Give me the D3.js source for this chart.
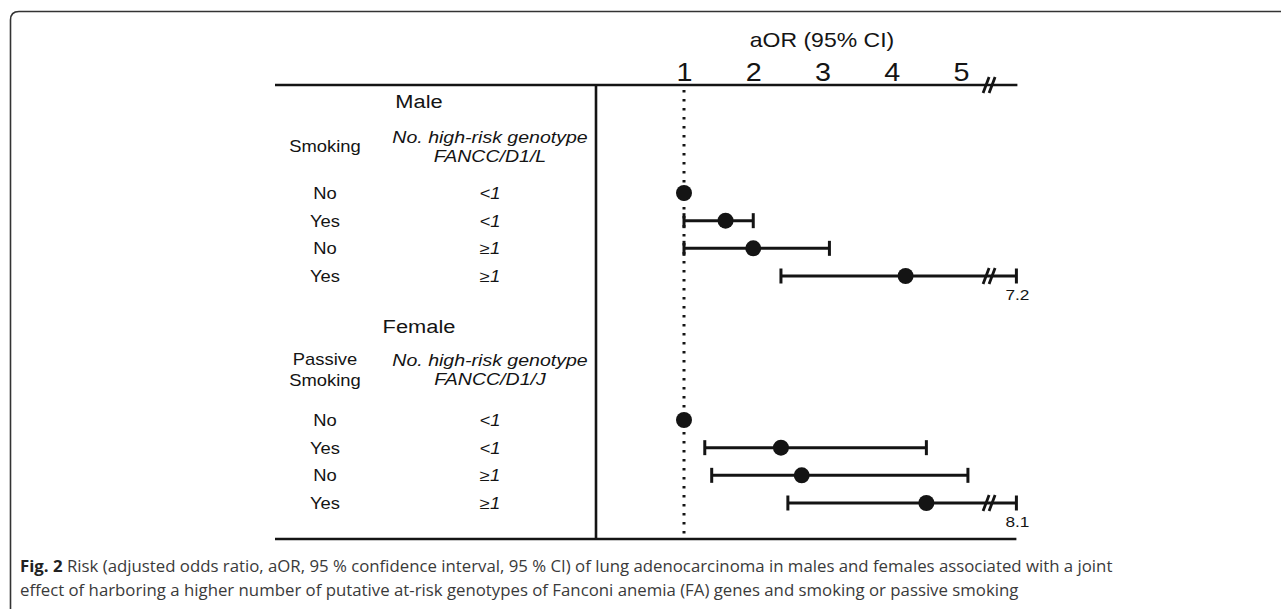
<!DOCTYPE html>
<html>
<head>
<meta charset="utf-8">
<script src="https://cdn.jsdelivr.net/npm/d3@7"></script>
<style>
  body { margin: 0; background: #fff; }
  svg { display: block; }
</style>
</head>
<body>
<svg id="chart" width="1281" height="609"></svg>
<script>
// values
let tickValues = [1, 2, 3, 4, 5];

let maleSmoking = ["No", "Yes", "No", "Yes"];
let maleGenotype = ["<1", "<1", "≥1", "≥1"];
let maleEst = [1.0, 1.6, 2.0, 4.2];
let maleLo = [1.0, 1.0, 1.0, 2.4];
let maleHi = [1.0, 2.0, 3.1, 7.2];

let femaleSmoking = ["No", "Yes", "No", "Yes"];
let femaleGenotype = ["<1", "<1", "≥1", "≥1"];
let femaleEst = [1.0, 2.4, 2.7, 4.5];
let femaleLo = [1.0, 1.3, 1.4, 2.5];
let femaleHi = [1.0, 4.5, 5.1, 8.1];

let captionBold = "Fig. 2";
let captionLines = [
    " Risk (adjusted odds ratio, aOR, 95 % confidence interval, 95 % CI) of lung adenocarcinoma in males and females associated with a joint",
    "effect of harboring a higher number of putative at-risk genotypes of Fanconi anemia (FA) genes and smoking or passive smoking"
];

let svg = d3.select('#chart');
let ink = '#141414';
let stretch = 1.15; // figure text is a bit wider than Arial

// axis: 1..5 linear, anything past the break is drawn at the end cap
let x = d3.scaleLinear().domain([1, 5]).range([684, 961]);
let breakAt = 5.42;
let capAt = 5.8;
let xc = function(v) { return v > 5.5 ? x(capAt) : x(v); };

let maleY = d3.scaleLinear().domain([0, 3]).range([193, 276]);
let femaleY = d3.scaleLinear().domain([0, 3]).range([420, 503]);

// frame
svg.append('rect').attr('width', 1281).attr('height', 609).attr('fill', '#fff');
svg.append('path')
    .attr('d', 'M10.5,609 V20 Q10.5,11.5 19,11.5 H1281')
    .attr('fill', 'none').attr('stroke', '#333').attr('stroke-width', 1.6);

let label = function(g, px, py, text, size, opts) {
    opts = opts || {};
    return g.append('text')
        .attr('transform', 'translate(' + px + ',' + py + ') scale(' + stretch + ',1)')
        .attr('text-anchor', opts.anchor || 'middle')
        .attr('font-family', 'Liberation Sans, Arial, sans-serif')
        .attr('font-size', size)
        .attr('font-style', opts.italic ? 'italic' : 'normal')
        .attr('fill', ink)
        .text(text);
};

let frame = svg.append('g');
// top and bottom rules, divider
frame.append('line').attr('x1', 275).attr('x2', x(capAt) + 1).attr('y1', 85).attr('y2', 85)
    .attr('stroke', ink).attr('stroke-width', 2.6);
frame.append('line').attr('x1', 275).attr('x2', x(capAt)).attr('y1', 539).attr('y2', 539)
    .attr('stroke', ink).attr('stroke-width', 2.6);
frame.append('line').attr('x1', 596).attr('x2', 596).attr('y1', 84).attr('y2', 540)
    .attr('stroke', ink).attr('stroke-width', 2.6);

// reference line at 1
frame.append('line').attr('x1', x(1)).attr('x2', x(1)).attr('y1', 90).attr('y2', 540)
    .attr('stroke', ink).attr('stroke-width', 3)
    .attr('stroke-dasharray', '2.6,6.4');

// axis labels
let axis = svg.append('g').attr('transform', 'translate(0,84)')
    .call(d3.axisTop(x).tickValues(tickValues).tickSize(0).tickPadding(3).tickFormat(d3.format('d')));
axis.select('.domain').remove();
axis.selectAll('text')
    .attr('font-family', 'Liberation Sans, Arial, sans-serif')
    .attr('font-size', 25)
    .attr('fill', ink)
    .attr('transform', 'scale(' + stretch + ',1)');
label(svg, 822, 47, 'aOR (95% CI)', 20);

let breakMark = function(g, cx, cy, h) {
    g.append('path')
        .attr('d', 'M' + (cx - 7) + ',' + (cy + h) + ' L' + (cx - 1) + ',' + (cy - h) +
                   ' M' + (cx - 1) + ',' + (cy + h) + ' L' + (cx + 5) + ',' + (cy - h))
        .attr('stroke', ink).attr('stroke-width', 2.8).attr('fill', 'none');
};
breakMark(svg, x(breakAt), 85, 8);

let drawPanel = function(title, colA, colB, ys, smoking, genotype, est, lo, hi) {
    let g = svg.append('g');
    label(g, 419, ys.title, title, 19);
    colA.forEach(function(t, i) {
        label(g, 325, ys.head + (i - (colA.length - 1) / 2) * 21 + 6, t, 16);
    });
    colB.forEach(function(t, i) {
        label(g, 490, ys.head + (i - 0.5) * 19 + 6, t, 17, { italic: true });
    });

    let rows = d3.range(est.length).map(function(i) {
        return { smoke: smoking[i], geno: genotype[i], est: est[i], lo: lo[i], hi: hi[i], y: ys.row(i) };
    });

    rows.forEach(function(d) {
        label(g, 325, d.y + 6, d.smoke, 16);
        label(g, 490, d.y + 6, d.geno, 16, { italic: true });
    });

    let ci = g.selectAll('g.ci').data(rows.filter(function(d) { return d.hi > d.lo; }))
        .enter().append('g').attr('class', 'ci');
    ci.append('line')
        .attr('x1', function(d) { return x(d.lo); })
        .attr('x2', function(d) { return xc(d.hi); })
        .attr('y1', function(d) { return d.y; })
        .attr('y2', function(d) { return d.y; })
        .attr('stroke', ink).attr('stroke-width', 3);
    [function(d) { return x(d.lo); }, function(d) { return xc(d.hi); }].forEach(function(fx) {
        ci.append('line')
            .attr('x1', fx).attr('x2', fx)
            .attr('y1', function(d) { return d.y - 7.5; })
            .attr('y2', function(d) { return d.y + 7.5; })
            .attr('stroke', ink).attr('stroke-width', 3);
    });
    ci.filter(function(d) { return d.hi > 5.5; }).each(function(d) {
        breakMark(d3.select(this), x(breakAt), d.y, 8);
        label(d3.select(this), xc(d.hi) + 1, d.y + 24, d3.format('.1f')(d.hi), 15);
    });

    g.selectAll('circle').data(rows).enter().append('circle')
        .attr('cx', function(d) { return x(d.est); })
        .attr('cy', function(d) { return d.y; })
        .attr('r', 8)
        .attr('fill', ink);
};

drawPanel('Male', ['Smoking'], ['No. high-risk genotype', 'FANCC/D1/L'],
    { title: 108, head: 146, row: maleY }, maleSmoking, maleGenotype, maleEst, maleLo, maleHi);
drawPanel('Female', ['Passive', 'Smoking'], ['No. high-risk genotype', 'FANCC/D1/J'],
    { title: 333, head: 369, row: femaleY }, femaleSmoking, femaleGenotype, femaleEst, femaleLo, femaleHi);

// caption
let cap = svg.append('text')
    .attr('font-family', 'Open Sans, sans-serif')
    .attr('font-size', 16.8)
    .attr('fill', '#3a3a3a');
cap.append('tspan').attr('x', 20).attr('y', 572)
    .attr('font-weight', 'bold').attr('fill', '#222').text(captionBold);
cap.append('tspan').text(captionLines[0]);
cap.append('tspan').attr('x', 20).attr('y', 596).text(captionLines[1]);
</script>
</body>
</html>
